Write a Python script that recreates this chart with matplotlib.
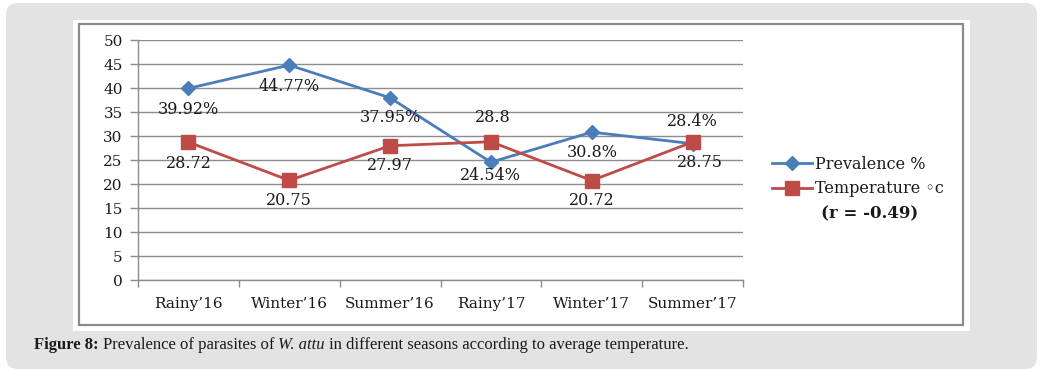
import matplotlib
matplotlib.use('Agg')
import matplotlib.pyplot as plt
from matplotlib.patches import FancyBboxPatch, Rectangle
from matplotlib.font_manager import FontProperties

# values
seasons = ["Rainy\u201916", "Winter\u201916", "Summer\u201916", "Rainy\u201917", "Winter\u201917", "Summer\u201917"]
prevalence = [39.92, 44.77, 37.95, 24.54, 30.8, 28.4]
temperature = [28.72, 20.75, 27.97, 28.8, 20.72, 28.75]
prev_labels = ["39.92%", "44.77%", "37.95%", "24.54%", "30.8%", "28.4%"]
temp_labels = ["28.72", "20.75", "27.97", "28.8", "20.72", "28.75"]
# label offsets in pixels (dx, dy), dy positive = below the point
prev_offsets = [(0, 21), (0, 21), (0, 20), (0, 13), (0, 20), (0, -22)]
temp_offsets = [(0, 21), (0, 20), (0, 20), (2, -24), (0, 20), (7, 20)]

W, H = 1043, 371
blue = '#4a7ebb'
red = '#be4b48'
grid_col = '#8c8c8c'
serif = 'DejaVu Serif'
ink = '#1a1a1a'

fig = plt.figure(figsize=(W / 100, H / 100), dpi=100)

# background layer in pixel units
bg = fig.add_axes([0, 0, 1, 1])
bg.set_xlim(0, W)
bg.set_ylim(H, 0)
bg.axis('off')
bg.add_patch(FancyBboxPatch((6, 3), 1031, 366, boxstyle='round,pad=0,rounding_size=12',
                            facecolor='#e3e3e3', edgecolor='none'))
bg.add_patch(Rectangle((73, 20), 897, 311, facecolor='white', edgecolor='none'))
bg.add_patch(Rectangle((79, 24), 884, 301, facecolor='none', edgecolor='#8a8a8a', linewidth=1.6))

# caption, pieced together word group by word group
cap_y = 1 - 345 / H
fig.canvas.draw()
r = fig.canvas.get_renderer()
parts = [("Figure 8:", 'normal', 'bold'),
         ("Prevalence of parasites of", 'normal', 'normal'),
         ("W. attu", 'italic', 'normal'),
         ("in different seasons according to average temperature.", 'normal', 'normal')]
x = 34
for txt, style, weight in parts:
    tt = fig.text(x / W, cap_y, txt, fontsize=12, fontstyle=style, fontweight=weight,
                  family='Liberation Serif', va='center', color=ink)
    x = tt.get_window_extent(r).x1 + 4

# main plot
ax = fig.add_axes([138 / W, 1 - 280 / H, (743 - 138) / W, (280 - 40) / H])
ax.set_facecolor('none')
xs = list(range(len(seasons)))
ax.plot(xs, prevalence, color=blue, linewidth=2.0, marker='D', markersize=7,
        label='Prevalence %', zorder=3)
ax.plot(xs, temperature, color=red, linewidth=2.0, marker='s', markersize=9.5,
        label='Temperature \u25e6c', zorder=4)

for i in xs:
    dx, dy = prev_offsets[i]
    ax.annotate(prev_labels[i], (i, prevalence[i]), xytext=(dx, -dy), textcoords='offset pixels',
                ha='center', va='center', fontsize=11.5, family=serif, color=ink, zorder=5)
    dx, dy = temp_offsets[i]
    ax.annotate(temp_labels[i], (i, temperature[i]), xytext=(dx, -dy), textcoords='offset pixels',
                ha='center', va='center', fontsize=11.5, family=serif, color=ink, zorder=5)

ax.set_xlim(-0.5, len(seasons) - 0.5)
ax.set_ylim(0, 50)
ax.set_yticks(range(0, 51, 5))
ax.set_xticks(xs)
ax.set_xticklabels(seasons, family=serif, fontsize=11)
ax.set_xticks([i - 0.5 for i in range(len(seasons) + 1)], minor=True)
for lab in ax.get_yticklabels():
    lab.set_family(serif)
    lab.set_fontsize(11)
ax.tick_params(axis='x', which='major', length=0, pad=12, colors=ink)
ax.tick_params(axis='x', which='minor', length=5, color=grid_col, width=1)
ax.tick_params(axis='y', length=6, color=grid_col, width=1, pad=5, labelcolor=ink)
ax.grid(axis='y', color=grid_col, linewidth=1)
ax.set_axisbelow(True)
for s in ['top', 'right']:
    ax.spines[s].set_visible(False)
for s in ['left', 'bottom']:
    ax.spines[s].set_color(grid_col)
    ax.spines[s].set_linewidth(1)

leg_font = FontProperties(family=[serif, 'DejaVu Sans'], size=11.5)
leg = ax.legend(loc='upper left', bbox_to_anchor=(772 / W, 1 - 156 / H), bbox_transform=fig.transFigure,
                frameon=False, prop=leg_font, handlelength=2.5, handletextpad=0.2,
                labelspacing=0.45, borderpad=0, borderaxespad=0)
for txt in leg.get_texts():
    txt.set_color(ink)

fig.text(870 / W, 1 - 214 / H, "(r = -0.49)", fontsize=12, fontweight='bold', family=serif,
         ha='center', va='center', color=ink)

fig.savefig('out.png', dpi=100)
